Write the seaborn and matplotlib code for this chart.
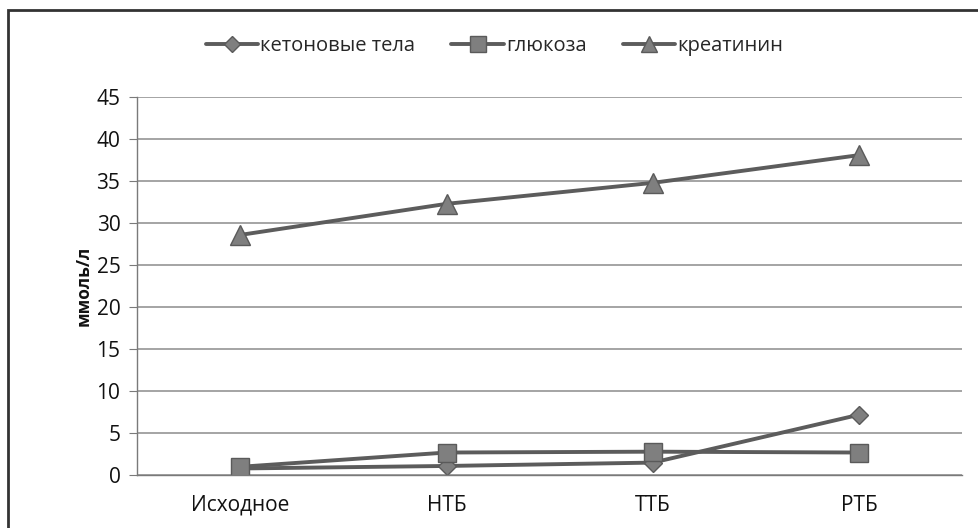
import pandas as pd
import numpy as np
import matplotlib.pyplot as plt
import seaborn as sns
from matplotlib.patches import Rectangle

# data
stages = ["Исходное", "НТБ", "ТТБ", "РТБ"]
ketones = [0.8, 1.1, 1.5, 7.2]
glucose = [1.0, 2.7, 2.8, 2.7]
creatinine = [28.6, 32.3, 34.8, 38.1]
series_names = ["кетоновые тела", "глюкоза", "креатинин"]

df = pd.DataFrame({
    "stage": stages * 3,
    "value": ketones + glucose + creatinine,
    "series": np.repeat(series_names, len(stages)),
})

sns.set_style("white")
plt.rcParams['font.family'] = ['Open Sans', 'DejaVu Sans']

fig = plt.figure(figsize=(9.79, 5.28), dpi=100)
ax = fig.add_axes([0.140, 0.100, 0.843, 0.716])

line_col = "#5c5c5c"
sns.lineplot(data=df, x="stage", y="value", hue="series", style="series",
             palette=[line_col] * 3, markers=["D", "s", "^"], dashes=False,
             linewidth=2.8, markersize=12, markerfacecolor="#7f7f7f",
             markeredgecolor="#5a5a5a", markeredgewidth=1, sort=False,
             ax=ax, legend=True)

# marker sizes per series (diamond smaller, triangle larger)
msizes = {"D": 9, "s": 13, "^": 15}
legend_sizes = {"D": 8, "s": 11, "^": 12}
for ln in ax.lines:
    m = ln.get_marker()
    if m in msizes:
        ln.set_markersize(msizes[m])

ax.set_xlim(-0.5, 3.5)
ax.set_ylim(0, 45)
ax.set_yticks(range(0, 46, 5))
ax.yaxis.grid(True, color="#8c8c8c", linewidth=1.1)
ax.set_axisbelow(True)
for s in ["top", "right"]:
    ax.spines[s].set_visible(False)
for s in ["left", "bottom"]:
    ax.spines[s].set_color("#7a7a7a")
    ax.spines[s].set_linewidth(1.0)

ax.set_xticks(range(len(stages)))
ax.set_xticklabels(stages)
ax.set_xticks(np.arange(-0.5, 4.0, 1.0), minor=True)
ax.tick_params(axis="x", which="major", length=0, pad=14, labelsize=15, colors="#111111")
ax.tick_params(axis="x", which="minor", length=6, color="#7a7a7a", direction="out")
ax.tick_params(axis="y", length=6, color="#7a7a7a", direction="out", labelsize=15,
               colors="#111111", left=True, pad=6)
ax.set_xlabel("")
ax.set_ylabel("ммоль/л", fontsize=12.5, fontweight="bold", labelpad=3, color="#111111")

handles, labels = ax.get_legend_handles_labels()
for h in handles:
    m = h.get_marker()
    if m in legend_sizes:
        h.set_markersize(legend_sizes[m])
ax.legend(handles, labels, loc="center", bbox_to_anchor=(0.505, 0.912),
          bbox_transform=fig.transFigure, ncol=3, frameon=False,
          fontsize=14.5, handlelength=2.6, columnspacing=1.8, handletextpad=0.1)

# outer chart border
fig.patches.append(Rectangle((0.008, -0.05), 1.2, 0.981 + 0.05,
                             transform=fig.transFigure, fill=False,
                             edgecolor="#333333", linewidth=2.0))

fig.savefig("out.png", dpi=100)
